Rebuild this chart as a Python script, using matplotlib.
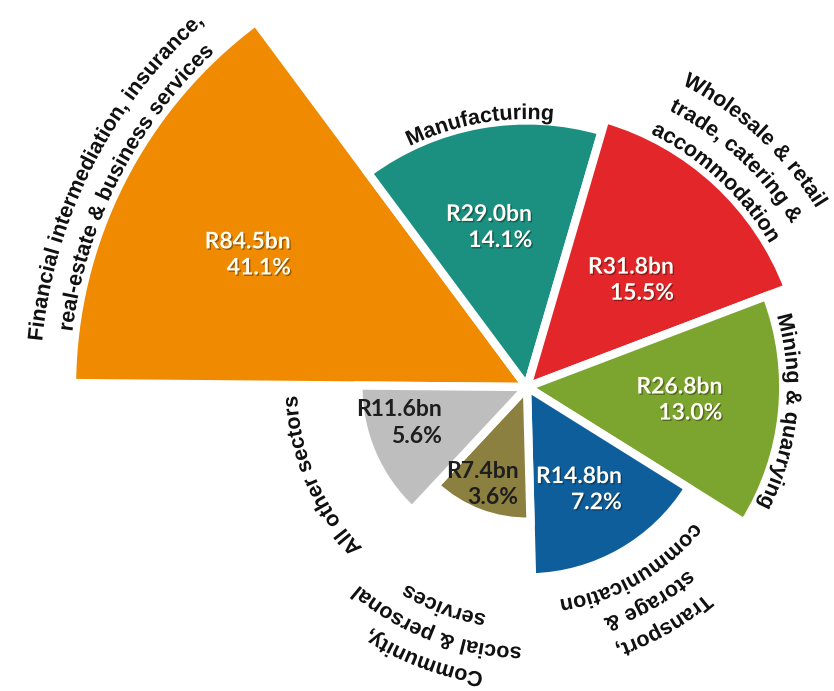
import numpy as np
import matplotlib
matplotlib.use("Agg")
import matplotlib.pyplot as plt
import matplotlib.patheffects as pe
from matplotlib.font_manager import FontProperties, findfont, get_font

try:
    from matplotlib.ft2font import Kerning
    KERN = Kerning.DEFAULT
except ImportError:
    from matplotlib.ft2font import KERNING_DEFAULT as KERN

# GDP contribution by sector
sectors = [
    "Financial intermediation, insurance,\nreal-estate & business services",
    "Manufacturing",
    "Wholesale & retail\ntrade, catering &\naccommodation",
    "Mining & quarrying",
    "Transport,\nstorage &\ncommunication",
    "Community,\nsocial & personal\nservices",
    "All other sectors",
]
value_bn = [84.5, 29.0, 31.8, 26.8, 14.8, 7.4, 11.6]
share_pct = [41.1, 14.1, 15.5, 13.0, 7.2, 3.6, 5.6]

colors = ["#F08A00", "#1B8F80", "#E2262A", "#7BA52E", "#0E5E9C", "#8C8040", "#BEBEBE"]
value_colors = ["#FFFDF5"] * 5 + ["#1E1E1E"] * 2

# layout (pixels / degrees)
W, H, DPI = 834, 691, 100
cx, cy = 527, 304          # pie centre, measured from the bottom
ppu = 49.5                 # pixels per sqrt(R bn)
rmax = 10.0
edges_deg = [179.5, 126.6, 73.7, 20.8, -32.0, -88.5, -133.0, -180.5]

# where the value text sits: (angle deg, radius px)
value_pos = [(154.7, 309), (103.4, 164), (45.8, 149), (-4.9, 153),
             (-63.2, 115), (-114.9, 107), (-164.3, 133)]
# baseline radius of the innermost line of each sector name (px)
name_r = [458, 268, 282, 260, 215, 231, 230]
line_gap = 29

fig = plt.figure(figsize=(W / DPI, H / DPI), dpi=DPI)
R = ppu * rmax
ax = fig.add_axes([(cx - R) / W, (cy - R) / H, 2 * R / W, 2 * R / H], projection="polar")
ax.set_ylim(0, rmax)
ax.axis("off")

edges = np.array(edges_deg)
centers = (edges[:-1] + edges[1:]) / 2
spans = edges[:-1] - edges[1:]
ax.bar(np.radians(centers), np.sqrt(value_bn), width=np.radians(spans), bottom=0,
       color=colors, edgecolor="white", linewidth=6, align="center")

val_font = FontProperties(family="Lato", weight="bold", size=16.5)
for (a, r), v, p, tc in zip(value_pos, value_bn, share_pct, value_colors):
    effects = None
    if tc != "#1E1E1E":
        effects = [pe.SimplePatchShadow(offset=(1, -1), shadow_rgbFace="k", alpha=0.35), pe.Normal()]
    ax.text(np.radians(a), r / ppu, f"R{v:.1f}bn\n{p:.1f}%", ha="center", va="center",
            multialignment="right", color=tc, fontproperties=val_font,
            linespacing=1.3, path_effects=effects)

# sector names written along arcs, tops facing outward, reading clockwise
name_font = FontProperties(family="Liberation Sans", weight="bold", size=15.5)
ft = get_font(findfont(name_font))
ft.set_size(name_font.get_size_in_points(), DPI)


def pen_positions(line):
    xs, adv = [], []
    x, prev = 0.0, None
    for c in line:
        idx = ft.get_char_index(ord(c))
        if prev is not None:
            x += ft.get_kerning(prev, idx, KERN) / 64
        g = ft.load_char(ord(c))
        xs.append(x)
        adv.append(g.linearHoriAdvance / 65536)
        x += adv[-1]
        prev = idx
    return xs, adv, x


def arc_line(line, theta_c, r_px):
    xs, adv, total = pen_positions(line)
    for c, x0, a in zip(line, xs, adv):
        if c == " ":
            continue
        th0 = theta_c - np.degrees((x0 - total / 2) / r_px)
        thm = theta_c - np.degrees((x0 + a / 2 - total / 2) / r_px)
        # drawn as a path so the pen origin sits exactly on the anchor
        ax.text(np.radians(th0), r_px / ppu, c, fontproperties=name_font, color="#111111",
                rotation=thm - 90, rotation_mode="anchor", ha="left", va="baseline",
                clip_on=False, path_effects=[pe.Normal()])


for name, tc, r0 in zip(sectors, centers, name_r):
    lines = name.split("\n")
    n = len(lines)
    for k, line in enumerate(lines):
        arc_line(line, tc, r0 + (n - 1 - k) * line_gap)

fig.savefig("out.png", dpi=DPI)
